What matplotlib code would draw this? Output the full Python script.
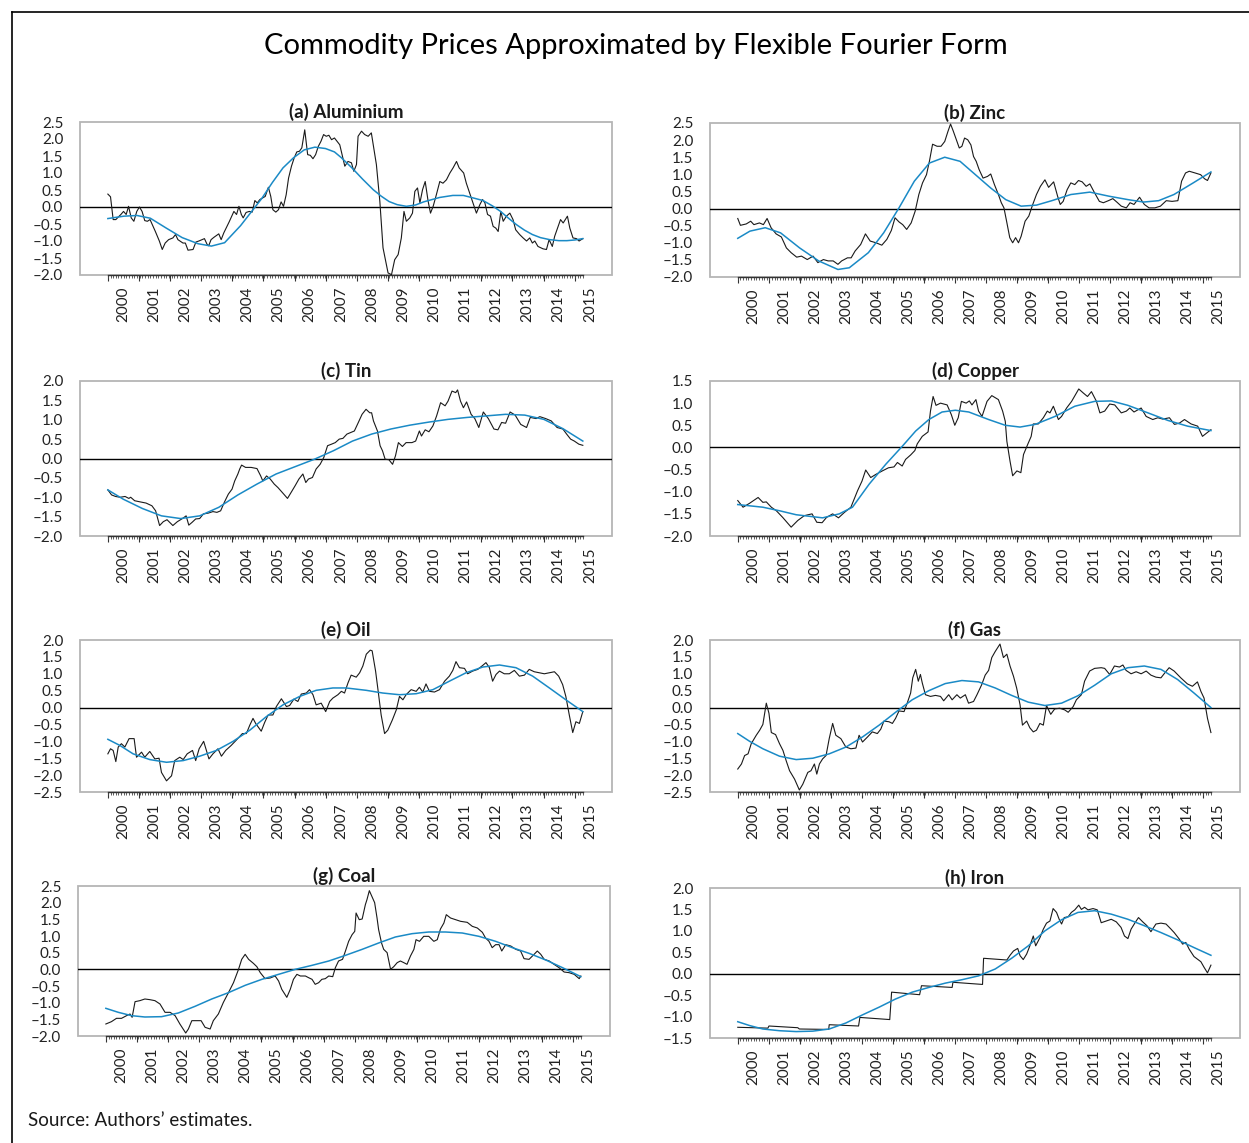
import matplotlib
matplotlib.use('Agg')
import matplotlib.pyplot as plt
from matplotlib.patches import Rectangle
from matplotlib.lines import Line2D
from matplotlib.ticker import FuncFormatter
import numpy as np

plt.rcParams['font.family'] = ['Lato', 'DejaVu Sans']

# ---------------- data (x = month index from start, y = standardised price) ----------------
years = [str(y) for y in range(2000, 2016)]

alu_m = [0,1,2,3,4.9,5.9,6.9,7.8,8.8,9.8, 10.9,11.9,12.9,13.9,14.9,15.9,17.9,19.4,20.5,21.6,
         22.9,24.5,25.5,26.4,28.3,29.2,30.2,32.1,33.2,34.3, 36.4,37.4,38,38.9,40,41.8,42.7,43.7,45.7,47.5,
         48.5,49.4,50.3,51,52.1,53.3,54.4,55.4,56.3,57.3, 59.3,60.5,61.4,62.2,63.3,64.3,65.3,66.2,67.2,68.1,
         69.2,70.2,71.2,72.2,73.1,74.2,75.3,76.3,77.3,78.3, 79.3,80.3,81.3,82.3,83.3,84.3,85.4,86.4,87.4,
         89.3,90.5,91.8,92.7,93.7,94.3,95.6,96.8,98.1,99.3, 101.2,102.5,103.7,105.6,106.9,108.1,109.4,110.6,111.6,112.5,
         113.8,114.8,115.7,116.7,117.6,118.6,119.6,120.7,121.6,122.6, 123.8,125.1,126.3,127.6,128.9,130.1,131.4,132.4,134.1,135.1,
         137,138.9,140.2,141.2,142.1,143.1,144.2,145.2,146.2,147.1, 148.1,149,150.2,151.5,152.7,153.7,155.2,156.5,157.8,159,
         160,160.9,162.1,164,165.3,166.3,167.5,168.4,169.7,170.6, 171.6,173.2,174.1,175.3,176.6,177.6,179]
alu_v = [0.38,0.3,-0.37,-0.37,-0.22,-0.13,-0.22,0.02,-0.32,-0.42, -0.13,0,-0.13,-0.4,-0.42,-0.37,-0.72,-1.0,-1.25,-1.06,
         -0.96,-0.91,-0.81,-0.96,-1.06,-1.06,-1.27,-1.25,-1.03,-1.0, -0.93,-1.1,-1.14,-0.96,-0.89,-0.79,-0.96,-0.76,-0.44,-0.13,
         -0.22,0.02,-0.22,-0.32,-0.16,-0.13,-0.15,0.19,0.12,0.22, 0.31,0.58,0.31,-0.08,-0.15,-0.08,0.15,0.02,0.36,0.85,
         1.2,1.44,1.62,1.64,1.74,2.27,1.54,1.52,1.42,1.54, 1.78,1.93,2.13,2.08,2.11,1.98,2.03,1.93,1.83,
         1.2,1.34,1.3,1.05,1.25,2.08,2.23,2.13,2.08,2.18, 1.25,0.17,-1.2,-1.94,-1.99,-1.55,-1.4,-0.91,-0.13,-0.42,
         -0.32,-0.18,0.46,0.56,0.12,0.51,0.75,0.17,-0.18,0.02, 0.36,0.75,0.7,0.8,1.0,1.15,1.34,1.15,1.0,0.7,
         0.26,-0.18,0.07,0.22,0.12,-0.22,-0.27,-0.57,-0.62,-0.72, -0.13,-0.42,-0.27,-0.18,-0.37,-0.67,-0.81,-0.91,-1.0,-0.91,
         -1.06,-1.0,-1.16,-1.23,-1.25,-0.96,-1.16,-0.86,-0.57,-0.37, -0.47,-0.27,-0.62,-0.91,-0.93,-1.0,-0.93]
alu_fm = [0,6,11,16,22,28,34,39,44,50,54,58,62,66,70,74,78,82,85.4,88,92,96,100,103,106,109,112.5,116,119,125,
          130,134,138,141.4,145,148,151,154,157,160,163,166.5,170,173,176,179]
alu_fv = [-0.34,-0.27,-0.25,-0.33,-0.62,-0.9,-1.08,-1.15,-1.05,-0.55,-0.15,0.25,0.72,1.15,1.45,1.68,1.76,1.72,1.62,1.45,
          1.15,0.82,0.51,0.32,0.16,0.07,0.02,0.06,0.15,0.28,0.34,0.34,0.26,0.19,0.03,-0.13,-0.33,-0.52,-0.68,-0.81,
          -0.9,-0.96,-0.99,-0.99,-0.97,-0.93]

zinc_m = [0,1,3.2,4.9,6.1,8.2,9.7,11.1,12.6,14.5, 16.5,18.4,20.2,22.3,24.1,26.3,28.5,30.3,32.4,34.2,
          36.1,37.9,39.3,41.5,42.9,44.4,46.5,48.3,50.1,52.3, 54.5,56.4,58.1,59.5,61,62.4,63.9,65.6,67.1,68.5,
          69.9,71.4,72.5,73.7,75.4,76.9,78.3,79.5,80.5,81.5, 82.7,83.8,84.8,85.8,87,88.2,89.2,90.2,91.3,92.8,
          94.5,95.7,97.1,98.6,99.7,100.7,101.7,102.9,104,105.1, 106.2,107.2,108.7,110.1,111.6,113,114.5,116.2,117.6,119.5,
          121,122,123.1,124.6,126,127.5,128.9,130.3,131.8,133.2, 134.7,136.8,138.3,140.2,141.9,143.4,145.1,147,148.4,149.9,
          152,153.8,155.6,157.8,159.9,162.1,164.3,166.5,167.9,169.4, 170.8,173,175.1,176.6,177.7,179]
zinc_v = [-0.29,-0.49,-0.45,-0.37,-0.47,-0.42,-0.47,-0.29,-0.56,-0.74, -0.83,-1.15,-1.29,-1.42,-1.39,-1.49,-1.39,-1.58,-1.49,-1.53,
          -1.53,-1.63,-1.53,-1.44,-1.44,-1.24,-1.05,-0.74,-0.95,-1.0, -1.07,-0.9,-0.64,-0.27,-0.39,-0.47,-0.61,-0.42,-0.08,0.41,
          0.75,0.99,1.38,1.88,1.82,1.82,1.96,2.25,2.47,2.27, 2.01,1.77,1.82,2.06,2.01,1.86,1.52,1.38,1.14,0.89,
          0.94,1.01,0.7,0.41,0.17,0.02,-0.37,-0.85,-1.0,-0.85, -1.0,-0.81,-0.37,-0.22,0.12,0.41,0.65,0.84,0.62,0.78,
          0.36,0.12,0.21,0.55,0.75,0.7,0.82,0.78,0.65,0.72, 0.5,0.21,0.17,0.23,0.29,0.19,0.07,0.02,0.17,0.12,
          0.33,0.12,0.02,0.02,0.07,0.23,0.21,0.23,0.8,1.04, 1.09,1.04,0.99,0.87,0.82,1.04]
zinc_fm = [0,4.6,10.4,16.2,23.4,30.6,37.9,42.2,49.4,55.2,61,66.8,72.5,78.3,84.1,89.9,95.7,101.4,107.2,113,
           118.8,126,133.2,140.5,147.7,153.5,159.2,165,172.3,179]
zinc_fv = [-0.87,-0.66,-0.56,-0.71,-1.15,-1.53,-1.78,-1.73,-1.29,-0.71,0.02,0.8,1.33,1.5,1.38,0.99,0.6,0.26,0.07,0.1,
           0.23,0.41,0.48,0.36,0.26,0.19,0.23,0.41,0.75,1.07]

tin_m = [0,1.4,2.9,4.6,6.5,7.9,8.6,10.1,12.2,14.4, 16.6,18,19.5,20.9,22.3,24.5,26.2,28.1,29.5,30.5,
         31.7,33.1,34.6,36,37.8,39.6,41.1,42.5,43.9,45.4, 46.8,47.8,49,49.7,50.4,51.9,54,56.2,57.6,58.4,
         59.8,61.2,62.7,64.1,66.3,67.7,69.2,70.6,72,73.5, 74.6,75.6,77.1,78.5,80,81.4,82.8,84.3,85.7,87.2,
         88.6,90.1,91.5,92.9,94.4,95.8,97.3,98.7,99.4,100.1, 101.6,102.6,103.5,104.5,105.9,107.3,108.4,109.5,111,112.4,
         114.6,116,117.4,118.2,119.6,121,122.5,123.9,125.4,127.1, 128.2,129.7,131.1,131.8,132.9,134,135.2,136.9,138.3,139.8,
         141.5,143.4,145.5,147,148.4,149.9,151.6,153.5,155.6,157.8, 159.2,161.4,162.8,165,167.1,169.3,171.5,172.9,174.4,175.8,
         177.5,179]
tin_v = [-0.81,-0.94,-0.98,-1.0,-0.98,-1.03,-1.0,-1.09,-1.12,-1.15, -1.22,-1.35,-1.73,-1.63,-1.58,-1.73,-1.63,-1.55,-1.48,-1.72,
         -1.65,-1.56,-1.55,-1.43,-1.41,-1.37,-1.39,-1.35,-1.13,-0.92, -0.79,-0.58,-0.4,-0.27,-0.17,-0.23,-0.23,-0.26,-0.45,-0.58,
         -0.45,-0.53,-0.66,-0.75,-0.92,-1.03,-0.86,-0.7,-0.53,-0.4, -0.62,-0.53,-0.49,-0.27,-0.15,0.03,0.33,0.37,0.41,0.5,
         0.52,0.63,0.67,0.71,0.93,1.14,1.27,1.18,1.18,0.97, 0.71,0.33,0.2,-0.02,-0.03,-0.15,0.07,0.41,0.31,0.41,
         0.41,0.45,0.71,0.58,0.74,0.69,0.84,1.1,1.44,1.36, 1.48,1.74,1.7,1.77,1.48,1.31,1.46,1.14,1.03,0.8,
         1.2,1.03,0.76,0.74,0.93,0.91,1.2,1.12,0.88,0.8, 1.06,1.03,1.08,1.03,0.97,0.8,0.76,0.63,0.5,0.45,
         0.37,0.34]
tin_fm = [0,5.8,13,20.2,27.4,34.6,41.8,49,56.2,63.4,70.6,77.8,85,92.2,99.4,106.6,113.8,121,128.2,135.4,
          142.7,149.9,157.1,164.3,171.5,179]
tin_fv = [-0.81,-1.05,-1.29,-1.48,-1.55,-1.48,-1.26,-0.94,-0.66,-0.4,-0.21,-0.02,0.2,0.45,0.63,0.76,0.86,0.94,1.01,1.06,
          1.1,1.14,1.12,1.01,0.77,0.45]

cop_m = [0,2,4.5,7.7,9.5,10.8,12.7,14.6,17,20.2, 22.7,25.2,28.1,29.9,31.9,33.6,35.9,38.1,40.3,42.8,
         45.3,47,48.4,50.3,52.2,54.7,57,59.1,60.4,62.2, 63.5,65.4,67,67.9,69.8,72,72.9,73.9,75,76.7,
         79.2,80.8,82.1,83.4,84.6,86.4,87.6,88.6,90.1,91.1, 92.4,94.3,96.1,98.6,100.2,101.2,101.8,103,104,105.6,
         107.1,108.1,109.7,111,111.8,113.7,115.6,117.1,118.1,119.4, 121.3,122.5,124.4,126.3,129,130.7,132.3,133.8,135.7,137,
         138.8,140.7,142.6,145.1,147,148.3,149.9,152.6,154.5,157, 158.9,160.8,163.3,165.2,167.1,169,171.5,174,175.8,177.5,
         179]
cop_v = [-1.2,-1.35,-1.26,-1.13,-1.24,-1.23,-1.35,-1.43,-1.58,-1.8, -1.65,-1.54,-1.5,-1.69,-1.7,-1.58,-1.5,-1.59,-1.47,-1.35,
         -0.98,-0.76,-0.51,-0.68,-0.61,-0.53,-0.46,-0.44,-0.34,-0.42, -0.27,-0.17,-0.07,0.08,0.25,0.35,0.82,1.15,0.95,1.0,
         0.96,0.74,0.5,0.67,1.04,1.0,1.05,0.96,1.08,0.82, 0.7,1.04,1.17,1.08,0.82,0.59,0.14,-0.31,-0.64,-0.53,
         -0.57,-0.16,0.07,0.25,0.53,0.53,0.67,0.82,0.78,0.93, 0.63,0.7,0.89,1.04,1.32,1.23,1.15,1.26,1.04,0.78,
         0.82,0.98,0.96,0.78,0.82,0.89,0.8,0.89,0.7,0.63, 0.67,0.64,0.67,0.52,0.55,0.63,0.53,0.48,0.25,0.33,
         0.4]
cop_fm = [0,9.5,15.8,22.1,32.1,38.4,43.4,49.7,56,62.3,67.3,72.3,77.3,82.3,87.4,94.9,101.2,106.8,112.5,120,
          127.5,135,141.3,147.6,155.2,162.7,170.2,179]
cop_fv = [-1.29,-1.35,-1.43,-1.52,-1.59,-1.5,-1.35,-0.83,-0.38,0.03,0.37,0.63,0.8,0.84,0.8,0.63,0.5,0.46,0.52,0.7,
          0.93,1.04,1.05,0.95,0.78,0.61,0.48,0.38]

oil_m = [0,1,2,3,3.9,5.1,6.4,8,9.9,10.8, 12.7,13.9,15.8,17.7,19.3,20.2,22.1,24,25.2,27.1,
         28.4,29.9,31.9,33.1,34.4,36.1,38.1,39.6,41.5,42.8, 44.4,46.5,48.7,50.7,52.2,53.5,54.7,55.7,57.8,59.1,
         60.4,62.2,63.5,65.4,67.3,68.5,70.1,71.6,72.9,74.8, 76,77.3,78.5,80.4,82.1,83.6,84.8,86.7,88,89.2,
         90.5,91.7,93.6,94.9,96.1,97.4,98.9,99.6,100.9,101.8, 103,104.3,105.5,107.2,108.7,109.9,111.2,112.4,114.3,116.2,
         117.4,118.7,119.9,121.2,123.1,125,126.9,128.7,130,131.2, 132.5,134.4,135.6,137.5,139.4,141.3,142.5,143.8,145,146.3,
         147.6,149.4,151.3,153.2,155.1,157,158.8,160.7,162.6,164.5, 166.4,168.3,169.9,171.4,172.6,173.9,175.2,176.4,177.7,179]
oil_v = [-1.37,-1.22,-1.27,-1.6,-1.17,-1.07,-1.17,-0.92,-0.92,-1.47, -1.32,-1.47,-1.3,-1.52,-1.5,-1.92,-2.17,-2.02,-1.57,-1.47,
         -1.54,-1.37,-1.27,-1.57,-1.22,-1.0,-1.52,-1.37,-1.22,-1.44, -1.27,-1.12,-0.94,-0.77,-0.77,-0.52,-0.32,-0.47,-0.7,-0.44,
         -0.22,-0.22,0.03,0.26,0.03,0.06,0.25,0.18,0.4,0.43, 0.53,0.38,0.08,0.13,-0.12,0.18,0.28,0.38,0.48,0.43,
         0.73,0.96,0.9,1.03,1.23,1.58,1.7,1.68,1.08,0.53, -0.22,-0.77,-0.67,-0.37,-0.07,0.33,0.23,0.38,0.53,0.48,
         0.6,0.46,0.7,0.48,0.46,0.53,0.78,0.93,1.1,1.36, 1.18,1.16,1.0,1.08,1.13,1.25,1.33,1.18,0.78,0.98,
         1.08,1.0,1.0,1.1,0.93,0.96,1.13,1.06,1.03,1.0, 1.03,1.06,0.93,0.68,0.33,-0.22,-0.74,-0.42,-0.47,-0.12]
oil_fm = [0,4.5,9.5,15.8,22.1,28.4,34.6,40.9,47.2,53.5,59.7,66,72.3,78.5,84.8,89.8,97.4,103.6,109.9,116.2,
          122.5,128.7,135,141.3,147.6,153.8,160.1,166.4,172.6,179]
oil_fv = [-0.94,-1.12,-1.37,-1.54,-1.62,-1.57,-1.44,-1.27,-1.0,-0.67,-0.27,0.08,0.33,0.51,0.58,0.58,0.51,0.43,0.38,0.41,
          0.53,0.78,1.03,1.2,1.26,1.18,0.93,0.58,0.23,-0.12]

gas_m = [0,1.4,2.6,3.9,5.1,7,8.3,9.5,10.8,11.8, 12.7,14.3,15.8,17.1,18.3,19.6,21.5,23.3,24.6,26.5,
         27.7,29,29.9,30.9,32.1,33.4,34.6,35.9,37.1,39, 40.9,42.8,44.7,45.9,47.2,49.1,50.9,52.8,54.1,55.3,
         57.2,58.5,59.7,61,62.9,64.1,65.4,66.2,67.3,68.3, 69.1,69.8,71,72.9,74.8,76.7,77.9,79.8,81.1,82.9,
         84.2,86.1,87.3,89.2,90.5,92.3,93.6,94.9,96.1,97.4, 99.2,100.5,101.8,103,104.3,105.5,106.8,107.7,109.3,110.5,
         111.8,113,114.3,115.6,116.8,118.4,119.9,121.8,123.7,125, 126.9,128.1,130,131.2,133.1,135,137.5,138.8,140.7,142.5,
         144.4,145.7,146.9,148.8,150.7,152.6,154.5,156.3,158.2,160.1, 161.6,163.2,165.1,167.6,170.1,172,173.9,175.2,176.4,177.7,
         179]
gas_v = [-1.82,-1.67,-1.42,-1.37,-1.07,-0.82,-0.67,-0.5,0.13,-0.17, -0.74,-0.8,-1.07,-1.27,-1.57,-1.87,-2.12,-2.44,-2.27,-1.92,
         -1.87,-1.67,-1.97,-1.67,-1.52,-1.42,-0.92,-0.47,-0.82,-0.92, -1.17,-1.22,-1.2,-0.82,-1.02,-0.87,-0.72,-0.77,-0.64,-0.4,
         -0.42,-0.47,-0.32,-0.1,-0.12,0.13,0.43,0.88,1.13,0.78, 0.98,0.73,0.38,0.33,0.36,0.33,0.2,0.38,0.23,0.38,
         0.28,0.38,0.13,0.18,0.38,0.68,0.96,1.1,1.48,1.66, 1.88,1.48,1.58,1.23,0.93,0.58,0.08,-0.52,-0.4,-0.6,
         -0.72,-0.67,-0.47,-0.52,0.06,-0.2,-0.04,-0.02,-0.07,-0.14, 0.03,0.23,0.38,0.78,1.08,1.16,1.18,1.16,0.98,1.23,
         1.2,1.26,1.1,1.0,1.06,1.0,1.08,0.96,0.9,0.88, 1.03,1.18,1.08,0.88,0.7,0.63,0.76,0.48,0.28,-0.32,
         -0.74]
gas_fm = [0,4.5,9.5,15.8,22.1,28.4,34.6,40.9,47.2,53.5,59.7,66,72.3,78.5,84.8,91.1,97.4,103.6,109.9,116.2,
          122.5,128.7,135,141.3,147.6,153.8,160.1,166.4,172.6,179]
gas_fv = [-0.77,-1.0,-1.22,-1.44,-1.54,-1.5,-1.37,-1.17,-0.87,-0.52,-0.14,0.23,0.5,0.71,0.8,0.76,0.58,0.36,0.16,0.06,
          0.13,0.35,0.66,1.0,1.18,1.23,1.13,0.83,0.43,0.0]

coal_m = [0,2.1,4,5.9,7.8,9.1,9.9,11,12.8,14.7, 16.6,18.5,20.4,22.3,24.2,26.1,27.9,30.1,31.1,32.4,
          34.2,35.9,37.4,39.3,40.5,42.4,44.3,46.2,48.1,50, 51.2,52.5,53.8,55.6,56.9,58.2,60,61.9,63.8,65.1,
          66.3,68.2,69.5,70.7,72,73.3,75.2,76.4,77.7,78.9, 80.2,81.4,82.7,84,85.5,86.5,87.7,89.2,90.3,91.5,
          92.8,93.8,94.3,95.5,96.6,97.8,98.4,99.3,100.3,101.3, 102.2,102.8,103.9,104.7,106,107.3,108.5,109.8,111,112.3,
          113.5,114.8,116.1,116.9,118.2,119.8,121.7,123.6,124.9,126.1, 127.4,128.3,129.9,131.8,133.7,136.2,138.1,140,141.9,143.1,
          144.4,145.6,146.9,148.2,149.2,150.7,152.6,154.5,156.3,157.6, 159.5,161.4,162.6,163.9,165.2,167.1,168.9,170.8,172.7,174.6,
          176.5,178.4,179]
coal_v = [-1.64,-1.57,-1.47,-1.47,-1.39,-1.34,-1.44,-0.97,-0.94,-0.89, -0.91,-0.94,-1.04,-1.29,-1.29,-1.39,-1.64,-1.91,-1.79,-1.54,
          -1.54,-1.54,-1.74,-1.79,-1.54,-1.34,-0.99,-0.7,-0.4,0.0, 0.3,0.45,0.3,0.18,0.08,-0.1,-0.28,-0.26,-0.2,-0.35,
          -0.6,-0.84,-0.6,-0.3,-0.15,-0.2,-0.2,-0.25,-0.3,-0.45, -0.4,-0.3,-0.28,-0.2,-0.22,0.05,0.25,0.3,0.55,0.84,
          1.04,1.14,1.69,1.49,1.51,1.94,2.09,2.36,2.18,2.0, 1.54,1.19,0.79,0.6,0.5,0.0,0.08,0.2,0.25,0.2,
          0.15,0.4,0.6,0.89,0.84,0.99,0.99,0.84,0.89,1.21, 1.39,1.64,1.54,1.49,1.44,1.41,1.29,1.24,1.11,0.94,
          0.84,0.65,0.74,0.74,0.55,0.74,0.7,0.6,0.55,0.32, 0.3,0.45,0.55,0.45,0.3,0.25,0.15,0.05,-0.08,-0.1,
          -0.15,-0.28,-0.2]
coal_fm = [0,4.7,9.7,14.7,21,27.3,33.6,39.9,46.2,52.5,58.8,65.1,71.4,77.7,84,90.3,96.6,102.8,109.1,115.4,
           121.7,128,134.3,140.6,146.9,153.2,159.5,165.8,172.1,179]
coal_fv = [-1.17,-1.29,-1.39,-1.43,-1.42,-1.31,-1.11,-0.89,-0.7,-0.48,-0.3,-0.15,0.0,0.12,0.25,0.42,0.6,0.79,0.97,1.07,
           1.12,1.12,1.09,0.99,0.84,0.65,0.48,0.28,0.05,-0.22]

iron_m = [0,11.4, 11.8,22.7, 23.3,34.4, 34.6,45.7, 46.2,57.5, 58.2,68.8, 69.5,81.1, 81.4,92.6, 93,101.8,
          103,104.3,105.9,106.8,108,109.3,110.5,111.8,112.7,114.3, 115.6,116.8,118.1,119.3,120.6,121.6,122.5,123.5,125,126.2,
          127.5,129,130,131.2,132.5,134.4,136,137.5,139.4,141.3, 143.2,145,146.3,147.6,148.8,150.3,151.6,153.2,154.8,156.3,
          158.2,160.1,162,163.9,165.1,167,168.3,169.5,170.8,172.6, 173.9,175.2,176.4,177.7,179]
iron_v = [-1.25,-1.27, -1.22,-1.26, -1.29,-1.3, -1.19,-1.22, -1.02,-1.07, -0.43,-0.49, -0.28,-0.32, -0.2,-0.25, 0.36,0.32,
          0.43,0.53,0.59,0.42,0.33,0.46,0.65,0.88,0.65,0.84, 1.04,1.18,1.23,1.52,1.43,1.27,1.16,1.31,1.33,1.43,
          1.49,1.6,1.5,1.55,1.49,1.52,1.49,1.19,1.23,1.27, 1.21,1.08,0.88,0.82,1.04,1.19,1.31,1.21,1.12,0.98,
          1.16,1.18,1.16,1.04,0.96,0.81,0.69,0.73,0.57,0.4, 0.34,0.28,0.15,0.02,0.2]
iron_fm = [0,4.5,9.5,15.8,22.1,28.4,34.6,40.9,47.2,53.5,59.7,66,72.3,78.5,84.8,91.1,97.4,103.6,109.9,116.2,
           122.5,128.7,135,141.3,147.6,153.8,160.1,166.4,172.6,179]
iron_fv = [-1.12,-1.21,-1.29,-1.33,-1.35,-1.34,-1.29,-1.15,-0.96,-0.78,-0.59,-0.43,-0.32,-0.22,-0.14,-0.05,0.11,0.36,0.65,1.0,
           1.26,1.43,1.47,1.39,1.27,1.12,0.96,0.79,0.61,0.43]

titles = ['(a) Aluminium', '(b) Zinc', '(c) Tin', '(d) Copper', '(e) Oil', '(f) Gas', '(g) Coal', '(h) Iron']
series = [(alu_m, alu_v, alu_fm, alu_fv), (zinc_m, zinc_v, zinc_fm, zinc_fv), (tin_m, tin_v, tin_fm, tin_fv),
          (cop_m, cop_v, cop_fm, cop_fv), (oil_m, oil_v, oil_fm, oil_fv), (gas_m, gas_v, gas_fm, gas_fv),
          (coal_m, coal_v, coal_fm, coal_fv), (iron_m, iron_v, iron_fm, iron_fv)]
ylims = [(-2.0, 2.5), (-2.0, 2.5), (-2.0, 2.0), (-2.0, 1.5), (-2.5, 2.0), (-2.5, 2.0), (-2.0, 2.5), (-1.5, 2.0)]

# ---------------- layout ----------------
W, H = 1249, 1143
fig = plt.figure(figsize=(W / 100, H / 100), dpi=100)
fig.patch.set_facecolor('white')

boxes = [(80, 122, 612, 275), (710, 123, 1240, 277),
         (80, 381, 612, 536), (710, 381, 1240, 536),
         (80, 640, 612, 792), (710, 640, 1240, 792),
         (78, 886, 610, 1036), (710, 888, 1240, 1038)]

BLUE = '#1a8ac6'
N_LAST = 179
year_len = 11.73
label_pos = [5.7 + year_len * k for k in range(len(years))]
year_ticks = [year_len * k for k in range(16) if year_len * k <= N_LAST]
month_ticks = np.arange(0, N_LAST + 1, 1)

fmt = FuncFormatter(lambda v, p: f"{v:.1f}".replace('-', '\u2013'))

for i, (l, t, r, b) in enumerate(boxes):
    ax = fig.add_axes([l / W, 1 - b / H, (r - l) / W, (b - t) / H])
    m, v, fm, fv = series[i]
    lo, hi = ylims[i]
    ax.set_xlim(-10.5, 190)
    ax.set_ylim(lo, hi)
    for s in ax.spines.values():
        s.set_visible(False)
    ax.add_patch(Rectangle((0, 0), 1, 1, transform=ax.transAxes, fill=False,
                           ec='#b5b5b5', lw=1.3, clip_on=False, zorder=1))
    ax.axhline(0, color='black', lw=1.0, zorder=2)
    ax.plot([0, N_LAST], [lo, lo], color='#333333', lw=1.0, clip_on=False, zorder=3)
    ax.plot(m, v, color='#1a1a1a', lw=0.8, zorder=4)
    ax.plot(fm, fv, color=BLUE, lw=1.1, zorder=5)

    ax.set_yticks(np.arange(lo, hi + 0.001, 0.5))
    ax.yaxis.set_major_formatter(fmt)
    ax.tick_params(axis='y', length=0, pad=12, labelsize=11, colors='#222222')

    ax.set_xticks(label_pos)
    ax.set_xticklabels(years, rotation=90, fontsize=11, color='#222222')
    ax.set_xticks(month_ticks, minor=True)
    ax.tick_params(axis='x', which='major', length=0, pad=8)
    ax.tick_params(axis='x', which='minor', length=2.2, width=0.6, color='#444444')

    sec = ax.secondary_xaxis('bottom')
    sec.set_xticks(year_ticks)
    sec.tick_params(length=4, width=0.8, color='#333333', labelbottom=False)
    for s in sec.spines.values():
        s.set_visible(False)

    ax.set_title(titles[i], fontsize=13.5, fontweight='bold', pad=3, color='#1a1a1a')

fig.text(636 / W, 1 - 46 / H, 'Commodity Prices Approximated by Flexible Fourier Form',
         ha='center', va='center', fontsize=21, color='black')
fig.text(28 / W, 1 - 1121 / H, 'Source: Authors\u2019 estimates.', ha='left', va='center',
         fontsize=13.5, color='#1a1a1a')

fig.add_artist(Line2D([12 / W, 1], [1 - 12 / H, 1 - 12 / H], color='black', lw=1.2))
fig.add_artist(Line2D([12 / W, 12 / W], [0, 1 - 12 / H], color='black', lw=1.2))

fig.savefig('out.png', dpi=100, facecolor='white')
